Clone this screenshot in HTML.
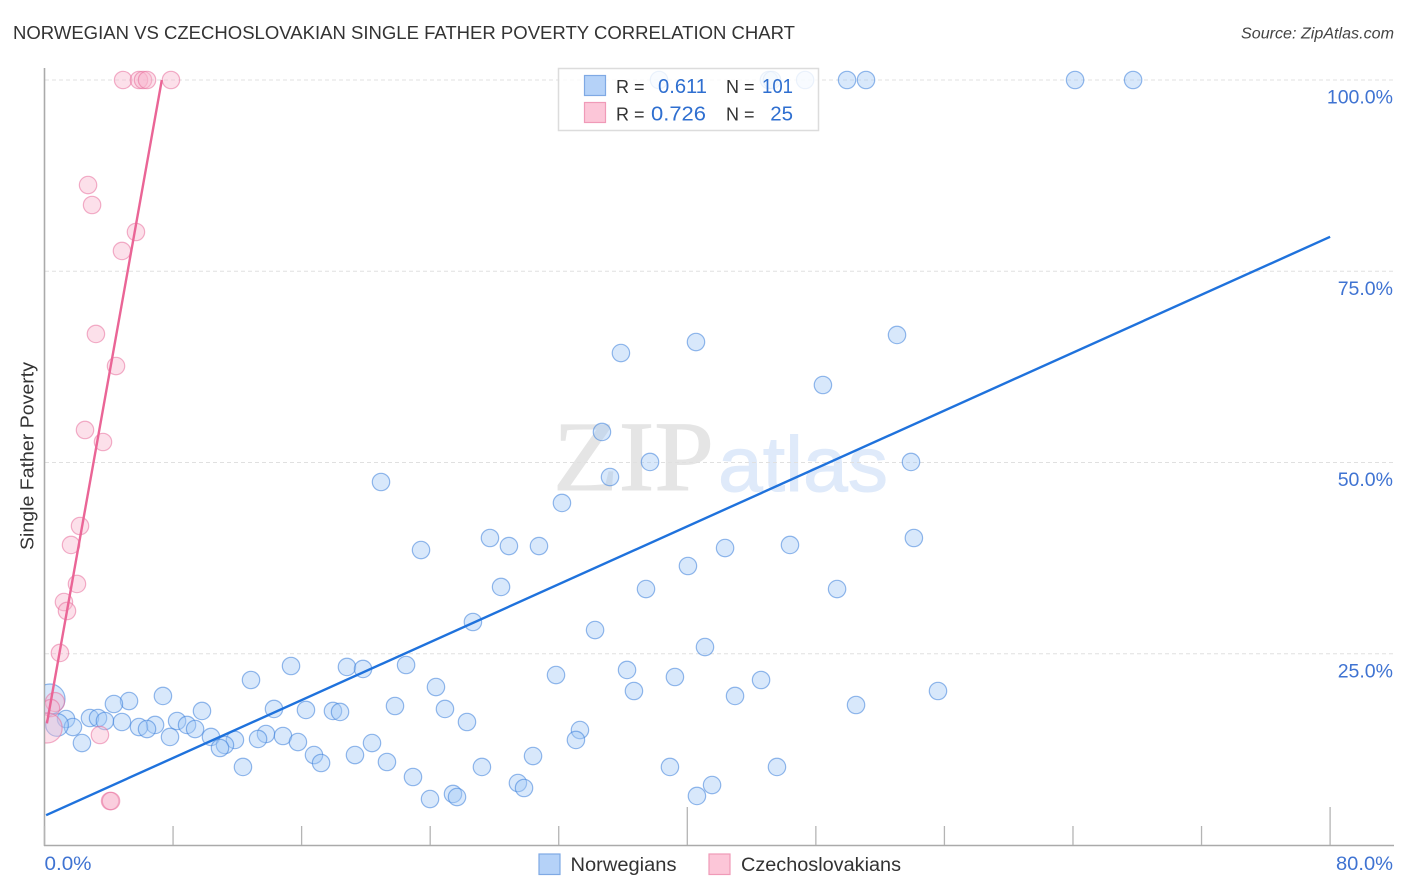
<!DOCTYPE html>
<html>
<head>
<meta charset="utf-8">
<title>Norwegian vs Czechoslovakian Single Father Poverty Correlation Chart</title>
<style>
html,body{margin:0;padding:0;background:#fff;width:1406px;height:892px;overflow:hidden}
svg{display:block}
text{font-family:"Liberation Sans",sans-serif}
</style>
</head>
<body>
<svg id="chart" width="1406" height="892" viewBox="0 0 1406 892" xmlns="http://www.w3.org/2000/svg">
  <defs>
    <clipPath id="plot-clip"><rect x="45" y="60" width="1349" height="785"/></clipPath>
  </defs>
  <text x="13" y="39" font-size="18.5" fill="#333" textLength="782" lengthAdjust="spacingAndGlyphs">NORWEGIAN VS CZECHOSLOVAKIAN SINGLE FATHER POVERTY CORRELATION CHART</text>
  <text x="1241" y="38.5" font-size="15.5" font-style="italic" fill="#444" textLength="153" lengthAdjust="spacingAndGlyphs">Source: ZipAtlas.com</text>
  <g id="watermark">
    <text x="553" y="490" font-size="100" fill="#e5e5e5" stroke="#e5e5e5" stroke-width="1" textLength="161" lengthAdjust="spacingAndGlyphs" style="font-family:'Liberation Serif',serif">ZIP</text>
    <text x="718" y="491" font-size="78" fill="#dfeafa" stroke="#dfeafa" stroke-width="1" textLength="170" lengthAdjust="spacingAndGlyphs">atlas</text>
  </g>
  <g id="grid"></g>
  <g id="axes"></g>
  <g id="points-norwegian" clip-path="url(#plot-clip)"></g>
  <g id="points-czech" clip-path="url(#plot-clip)"></g>
  <g id="trends"></g>
  <text transform="translate(33.5,456) rotate(-90)" font-size="18" fill="#333" text-anchor="middle" textLength="188" lengthAdjust="spacingAndGlyphs">Single Father Poverty</text>

  <g>
    <rect x="558.5" y="68.5" width="260" height="62" fill="#fff" fill-opacity="0.82" stroke="#dcdcdc" stroke-width="1.5"/>
    <rect x="584.5" y="75.5" width="21" height="20" fill="#b5d2f8" stroke="#7fa9e4" stroke-width="1.2"/>
    <rect x="584.5" y="102.5" width="21" height="20" fill="#fcc6d8" stroke="#f09ab8" stroke-width="1.2"/>
    <text x="616" y="93" font-size="18" fill="#333">R =</text>
    <text x="658" y="93" font-size="20.5" fill="#2f6fd0" textLength="49" lengthAdjust="spacingAndGlyphs">0.611</text>
    <text x="726" y="93" font-size="18" fill="#333">N =</text>
    <text x="762" y="93" font-size="20.5" fill="#2f6fd0" textLength="31" lengthAdjust="spacingAndGlyphs">101</text>
    <text x="616" y="120.5" font-size="18" fill="#333">R =</text>
    <text x="651" y="120.5" font-size="20.5" fill="#2f6fd0" textLength="55" lengthAdjust="spacingAndGlyphs">0.726</text>
    <text x="726" y="120.5" font-size="18" fill="#333">N =</text>
    <text x="793" y="120.5" font-size="20.5" fill="#2f6fd0" text-anchor="end">25</text>
  </g>

  <g>
    <rect x="539" y="854" width="21" height="20.5" fill="#b5d2f8" stroke="#7fa9e4" stroke-width="1.2"/>
    <text x="570.5" y="871" font-size="19" fill="#333" textLength="106" lengthAdjust="spacingAndGlyphs">Norwegians</text>
    <rect x="709" y="854" width="21" height="20.5" fill="#fcc6d8" stroke="#f09ab8" stroke-width="1.2"/>
    <text x="741" y="871" font-size="19" fill="#333" textLength="160" lengthAdjust="spacingAndGlyphs">Czechoslovakians</text>
  </g>
</svg>
<script>
// ---- chart data (percent values) ----
const yTickValues = [100, 75, 50, 25];
const yTickLabels = ["100.0%", "75.0%", "50.0%", "25.0%"];
const xTickValues = [0, 8, 16, 24, 32, 40, 48, 56, 64, 72, 80];
const xMajorTickValues = [40, 80];
const xEndLabels = ["0.0%", "80.0%"];

const norwegianX = [38.24,45.08,45.27,47.33,49.94,51.12,64.13,67.74,53.05,40.54,35.87,48.44,34.69,37.68,53.92,35.19,20.94,32.20,54.10,27.72,28.90,30.77,23.43,42.35,46.39,40.04,28.41,37.43,49.32,26.66,34.26,41.10,15.34,18.82,19.82,22.50,36.25,31.83,39.23,44.59,12.85,24.36,36.68,55.60,42.97,7.37,5.26,4.32,21.81,50.50,24.92,14.28,16.27,17.95,18.39,9.80,26.29,33.32,2.83,3.33,3.76,4.82,1.34,1.77,8.25,8.87,6.88,5.88,6.38,9.37,7.81,10.36,11.85,13.78,13.29,14.84,15.77,33.07,20.38,11.23,10.92,2.33,16.77,19.32,30.40,21.31,17.21,12.35,27.22,38.92,45.58,22.93,29.46,29.84,41.54,25.42,25.67,23.99,40.60,0.34,0.78];
const norwegianY = [100,100,100,100,100,100,100,100,66.67,65.75,64.31,60.13,53.99,50.07,50.07,48.10,47.45,44.71,40.13,40.13,39.08,39.08,38.56,38.82,39.22,36.47,33.73,33.46,33.46,29.15,28.10,25.88,23.40,23.27,23.01,23.53,22.88,22.22,21.96,21.57,21.57,20.65,20.13,20.13,19.48,19.48,18.82,18.43,18.17,18.30,17.78,17.78,17.65,17.52,17.39,17.52,16.08,15.03,16.60,16.60,16.21,16.08,16.47,15.42,16.21,15.69,15.69,15.42,15.16,15.16,14.12,14.12,13.73,14.51,13.86,14.25,13.46,13.73,13.33,13.07,12.68,13.33,11.76,11.76,11.63,10.85,10.72,10.20,10.20,10.20,10.20,8.89,8.10,7.45,7.84,6.67,6.27,6.01,6.41,19.08,15.69];
const norwegianWeight = [1,1,1,1,1,1,1,1,1,1,1,1,1,1,1,1,1,1,1,1,1,1,1,1,1,1,1,1,1,1,1,1,1,1,1,1,1,1,1,1,1,1,1,1,1,1,1,1,1,1,1,1,1,1,1,1,1,1,1,1,1,1,1,1,1,1,1,1,1,1,1,1,1,1,1,1,1,1,1,1,1,1,1,1,1,1,1,1,1,1,1,1,1,1,1,1,1,1,1,3,1.7];

const czechX = [4.89,5.88,6.13,6.38,7.87,2.71,2.96,5.69,4.82,3.20,4.45,2.52,3.64,2.21,1.65,2.02,1.21,1.40,0.96,0.65,0.40,0.16,3.45,4.08,4.14];
const czechY = [100,100,100,100,100,86.27,83.66,80.13,77.65,66.80,62.61,54.25,52.68,41.70,39.22,34.12,31.76,30.59,25.10,18.69,17.90,15.30,14.38,5.75,5.75];
const czechWeight = [1,1,1,1,1,1,1,1,1,1,1,1,1,1,1,1,1,1,1,1.2,1,3,1,1,1];

const norwegianTrendX = [0.1, 80];
const norwegianTrendY = [3.9, 79.5];
const czechTrendX = [0.15, 7.3];
const czechTrendY = [15.9, 100];

// ---- axis functions ----
const plotLeft = 44.5, pxPerX = 16.07;
const plotBottom = 845, pxPerY = 7.65;
function xScale(v){ return plotLeft + v * pxPerX; }
function yScale(v){ return plotBottom - v * pxPerY; }
const NS = "http://www.w3.org/2000/svg";
function make(tag, attrs, parent){
  const el = document.createElementNS(NS, tag);
  for (const k in attrs) el.setAttribute(k, attrs[k]);
  parent.appendChild(el);
  return el;
}

// gridlines and y tick labels
const gridGroup = document.getElementById('grid');
yTickValues.forEach(function(v, i){
  const line = make('line', {x1: 45, x2: 1393, y1: yScale(v), y2: yScale(v), stroke: '#e0e0e0', 'stroke-width': 1, 'stroke-dasharray': '4 3'}, gridGroup);
  
  
  const label = make('text', {x: 1393, y: yScale(v) + 23.5, 'font-size': 19.5, fill: '#3f73d2', 'text-anchor': 'end'}, gridGroup);
  
  
  label.textContent = yTickLabels[i];
});

// axes
const axesGroup = document.getElementById('axes');
const yAxisLine = make('line', {x1: 44.5, x2: 44.5, y1: 68, y2: 846, stroke: '#aaa', 'stroke-width': 1.6}, axesGroup);


const xAxisLine = make('line', {x1: 44, x2: 1394, y1: 845.5, y2: 845.5, stroke: '#aaa', 'stroke-width': 1.6}, axesGroup);


xTickValues.forEach(function(v){
  const top = xMajorTickValues.indexOf(v) >= 0 ? 807 : 826;
  const tick = make('line', {x1: xScale(v), x2: xScale(v), y1: top, y2: 845, stroke: '#b4b4b4', 'stroke-width': 1.3}, axesGroup);
  
  
});
const xLabelStart = make('text', {x: 44.5, y: 870, 'font-size': 19.5, fill: '#3f73d2', textLength: 47, lengthAdjust: 'spacingAndGlyphs'}, axesGroup);


xLabelStart.textContent = xEndLabels[0];
const xLabelEnd = make('text', {x: 1336, y: 870, 'font-size': 19.5, fill: '#3f73d2', textLength: 57, lengthAdjust: 'spacingAndGlyphs'}, axesGroup);


xLabelEnd.textContent = xEndLabels[1];

// points
const baseRadius = 8.7;
function drawPoints(groupId, xs, ys, weights, fill, stroke, fillOpacity, strokeOpacity, name){
  const group = document.getElementById(groupId);
  xs.forEach(function(xv, i){
    const c = make('circle', {cx: xScale(xv), cy: yScale(ys[i]), r: baseRadius * Math.sqrt(weights[i]), fill: fill, 'fill-opacity': fillOpacity, stroke: stroke, 'stroke-opacity': strokeOpacity, 'stroke-width': 1.2}, group);
    
    
  });
}
drawPoints('points-norwegian', norwegianX, norwegianY, norwegianWeight, '#a3c7f5', '#3d7fdb', 0.42, 0.55, 'norwegian-point');
drawPoints('points-czech', czechX, czechY, czechWeight, '#f9b4cc', '#e8709c', 0.42, 0.55, 'czechoslovakian-point');

// trend lines
const trendGroup = document.getElementById('trends');
const blueTrend = make('line', {x1: xScale(norwegianTrendX[0]), y1: yScale(norwegianTrendY[0]), x2: xScale(norwegianTrendX[1]), y2: yScale(norwegianTrendY[1]), stroke: '#1f72dc', 'stroke-width': 2.4}, trendGroup);


const pinkTrend = make('line', {x1: xScale(czechTrendX[0]), y1: yScale(czechTrendY[0]), x2: xScale(czechTrendX[1]), y2: yScale(czechTrendY[1]), stroke: '#ea6596', 'stroke-width': 2.4}, trendGroup);


</script>
</body>
</html>
